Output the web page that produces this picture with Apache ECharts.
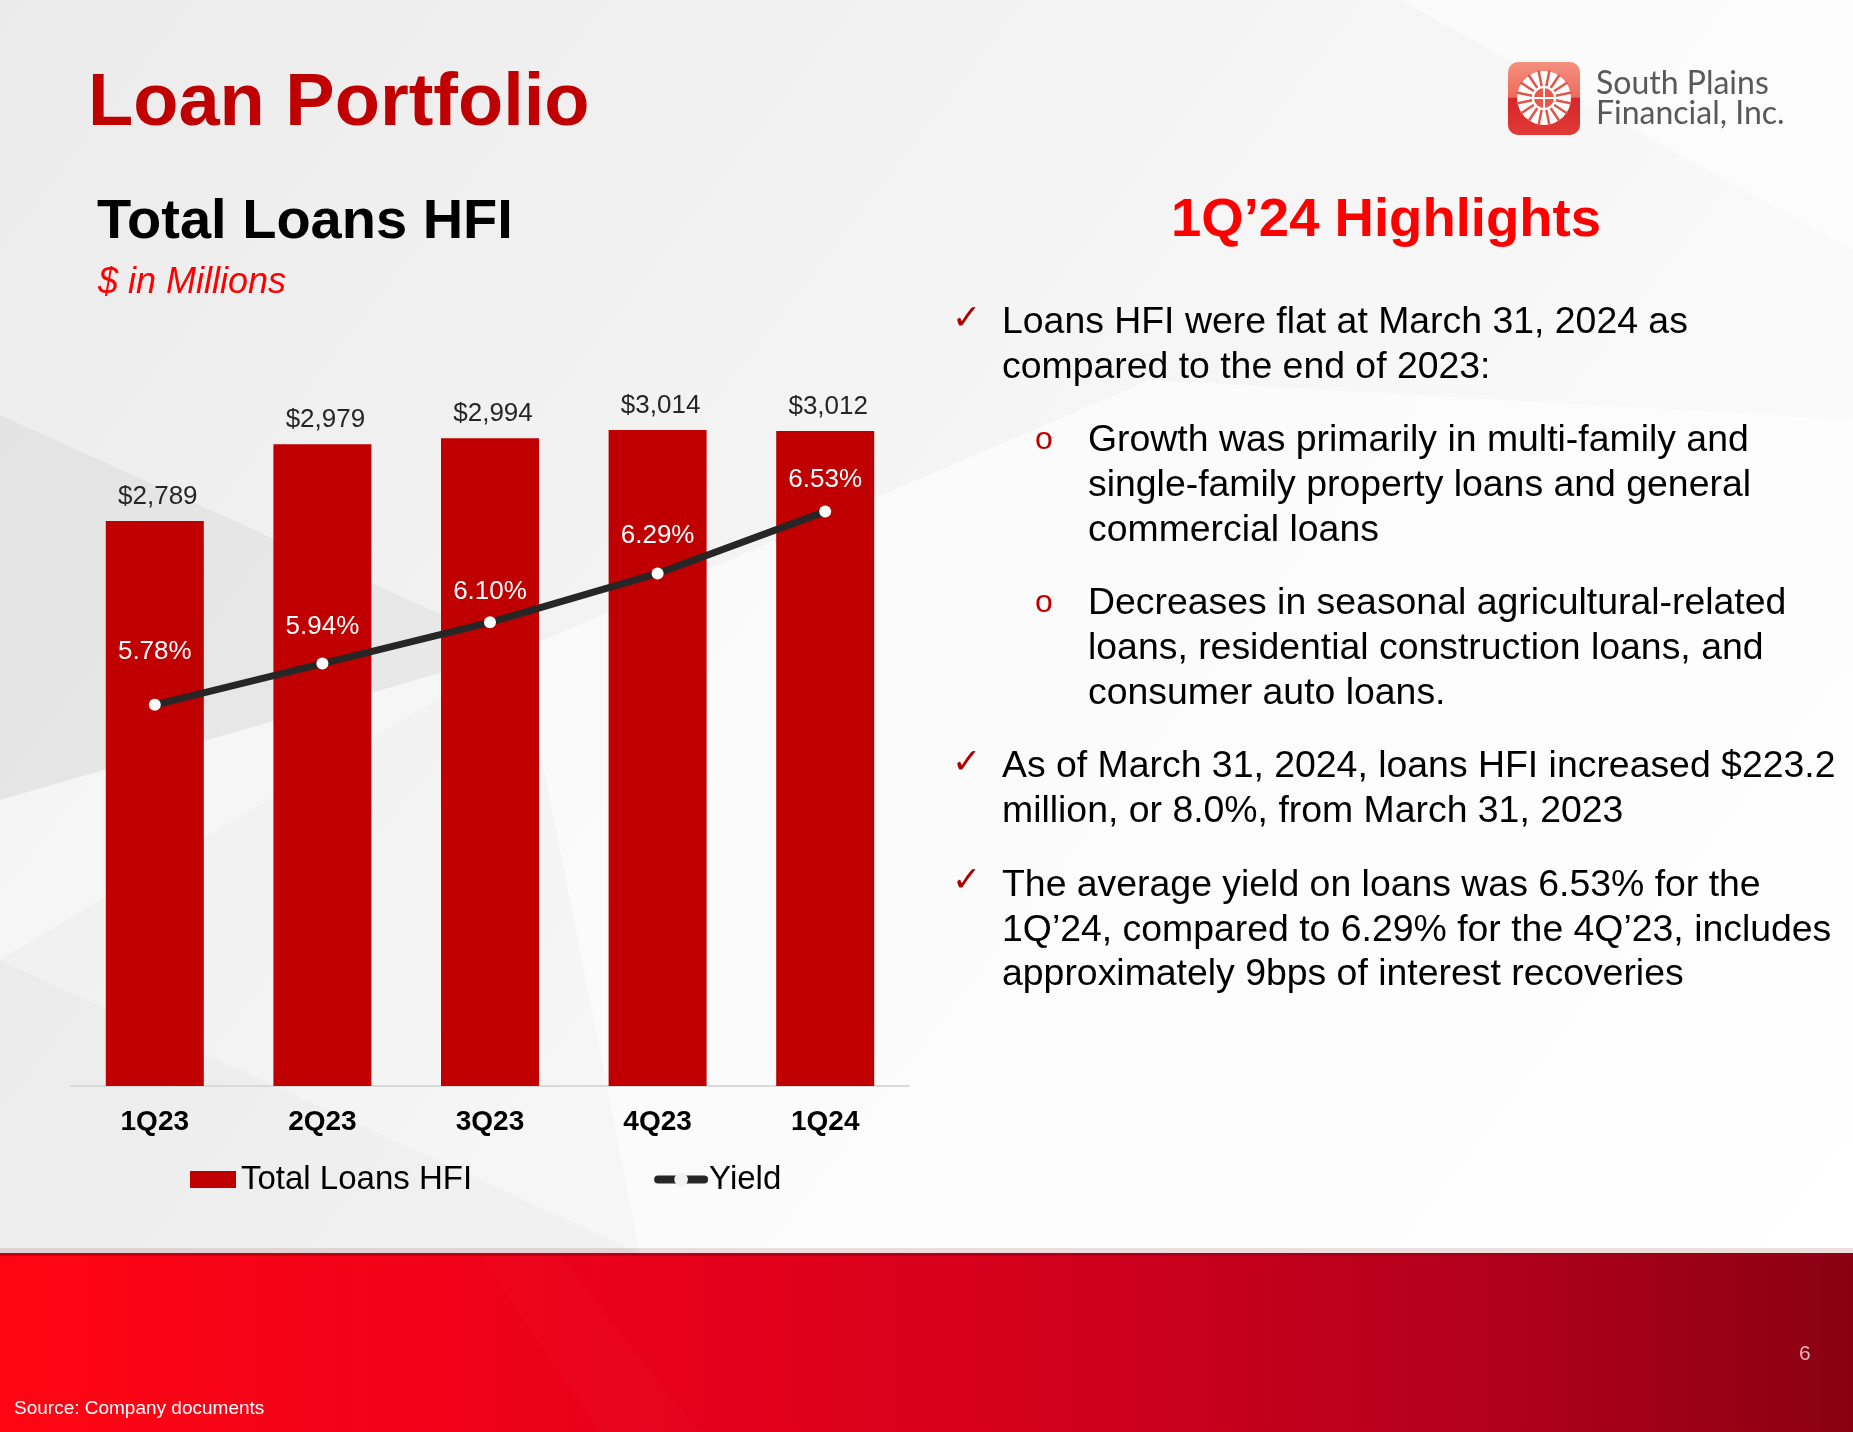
<!DOCTYPE html>
<html><head><meta charset="utf-8">
<script src="https://cdn.jsdelivr.net/npm/echarts@6/dist/echarts.min.js"></script>
<style>html,body{margin:0;padding:0;background:#fff;overflow:hidden}#c{width:1853px;height:1432px}</style>
</head><body><div id="c"></div>
<script>
// ---- data ----
const categories = ['1Q23', '2Q23', '3Q23', '4Q23', '1Q24'];
const totalLoans = [2789, 2979, 2994, 3014, 3012];
const yieldPct = [5.78, 5.94, 6.10, 6.29, 6.53];
const seriesNames = ['Total Loans HFI', 'Yield'];

const FONT = '"Liberation Sans", Arial, Helvetica, sans-serif';
const chart = echarts.init(document.getElementById('c'), null, {renderer: 'canvas'});

// per-point label gaps above the yield markers (style only)
const yieldLabelGap = [34, 18, 12, 19, 13];

function txt(text, x, y, size, color, opts) {
  opts = opts || {};
  return {
    type: 'text', x: x, y: y, z: 10, silent: true,
    style: {
      text: text, fontSize: size, fill: color, fontFamily: opts.family || FONT,
      fontWeight: opts.weight || 'normal', fontStyle: opts.style || 'normal',
      align: opts.align || 'left', verticalAlign: 'middle'
    }
  };
}
// y given as baseline -> middle
function bl(base, size) { return base - 0.35 * size; }

const BODY = 37.4;
const bulletLines = [
  ['Loans HFI were flat at March 31, 2024 as', 1002, 336],
  ['compared to the end of 2023:', 1002, 381],
  ['Growth was primarily in multi-family and', 1088, 454],
  ['single-family property loans and general', 1088, 499],
  ['commercial loans', 1088, 544],
  ['Decreases in seasonal agricultural-related', 1088, 617],
  ['loans, residential construction loans, and', 1088, 662],
  ['consumer auto loans.', 1088, 707],
  ['As of March 31, 2024, loans HFI increased $223.2', 1002, 780],
  ['million, or 8.0%, from March 31, 2023', 1002, 825],
  ['The average yield on loans was 6.53% for the', 1002, 899],
  ['1Q\u201924, compared to 6.29% for the 4Q\u201923, includes', 1002, 944],
  ['approximately 9bps of interest recoveries', 1002, 988]
];
const checkY = [320, 764, 882];
const circY = [440, 603];

const graphics = [];
// background
graphics.push({type: 'rect', z: -10, silent: true, shape: {x: 0, y: 0, width: 1853, height: 1432},
  style: {fill: new echarts.graphic.LinearGradient(0, 0, 1, 1, [
    {offset: 0, color: '#ebebec'}, {offset: 0.45, color: '#f5f5f6'}, {offset: 1, color: '#ffffff'}])}});
graphics.push({type: 'polygon', z: -9, silent: true, shape: {points: [[0, 415], [520, 650], [0, 800]]},
  style: {fill: 'rgba(0,0,0,0.04)'}});
graphics.push({type: 'polygon', z: -9, silent: true, shape: {points: [[0, 800], [520, 650], [0, 960]]},
  style: {fill: 'rgba(255,255,255,0.35)'}});
graphics.push({type: 'polygon', z: -9, silent: true, shape: {points: [[0, 960], [640, 1253], [0, 1253]]},
  style: {fill: 'rgba(0,0,0,0.02)'}});
graphics.push({type: 'polygon', z: -9, silent: true, shape: {points: [[520, 650], [1150, 380], [1853, 420], [1853, 1253], [640, 1253]]},
  style: {fill: 'rgba(255,255,255,0.55)'}});
graphics.push({type: 'polygon', z: -9, silent: true, shape: {points: [[1400, 0], [1853, 0], [1853, 250]]},
  style: {fill: 'rgba(255,255,255,0.5)'}});
// red footer band
graphics.push({type: 'rect', z: -5, silent: true, shape: {x: 0, y: 1248, width: 1853, height: 6},
  style: {fill: 'rgba(120,0,0,0.12)'}});
graphics.push({type: 'rect', z: -5, silent: true, shape: {x: 0, y: 1253, width: 1853, height: 179},
  style: {fill: new echarts.graphic.LinearGradient(0, 0, 1, 0, [
    {offset: 0, color: '#ff0513'}, {offset: 0.3, color: '#ec001a'}, {offset: 0.55, color: '#d4001c'},
    {offset: 0.8, color: '#b3001c'}, {offset: 1, color: '#8a0012'}])}});
graphics.push({type: 'rect', z: -4, silent: true, shape: {x: 0, y: 1253, width: 1853, height: 3},
  style: {fill: 'rgba(150,0,20,0.6)'}});
graphics.push({type: 'polygon', z: -4, silent: true, shape: {points: [[480, 1256], [560, 1256], [700, 1432], [600, 1432]]},
  style: {fill: 'rgba(255,255,255,0.015)'}});
graphics.push(txt('Source: Company documents', 14, 1409, 19, '#ffffff'));
graphics.push(txt('6', 1799, 1354, 21, '#e7b5b8'));

// titles
graphics.push(txt('Loan Portfolio', 88, bl(130, 74), 74, '#c00000', {weight: 'bold'}));
graphics.push(txt('Total Loans HFI', 97, bl(242, 56), 56, '#000000', {weight: 'bold'}));
graphics.push(txt('$ in Millions', 98, bl(296, 36), 36, '#ff0000', {style: 'italic'}));
graphics.push(txt('1Q\u201924 Highlights', 1386, bl(240, 54.5), 54.5, '#ff0000', {weight: 'bold', align: 'center'}));

bulletLines.forEach(function (l) { graphics.push(txt(l[0], l[1], bl(l[2], BODY), BODY, '#000000')); });
checkY.forEach(function (y) { graphics.push(txt('\u2713', 952, y, 35, '#b00000', {family: '"DejaVu Sans", sans-serif'})); });
circY.forEach(function (y) { graphics.push(txt('o', 1035, y, 32, '#c00000')); });

// logo
graphics.push({type: 'rect', z: 5, silent: true, shape: {x: 1508, y: 62, width: 72, height: 73, r: 10},
  style: {fill: new echarts.graphic.LinearGradient(0, 0, 0, 1, [
    {offset: 0, color: '#f4907e'}, {offset: 0.48, color: '#ef6b5c'}, {offset: 0.5, color: '#d6262a'}, {offset: 1, color: '#e03a36'}])}});
graphics.push({type: 'circle', z: 6, silent: true, shape: {cx: 1544, cy: 98, r: 27}, style: {fill: '#ffffff'}});
for (let i = 0; i < 16; i++) {
  const a = i * Math.PI / 8 + Math.PI / 16;
  graphics.push({type: 'line', z: 7, silent: true,
    shape: {x1: 1544 + 12 * Math.cos(a), y1: 98 + 12 * Math.sin(a), x2: 1544 + 28 * Math.cos(a), y2: 98 + 28 * Math.sin(a)},
    style: {stroke: '#e0564a', lineWidth: 2.5}});
}
graphics.push({type: 'circle', z: 7, silent: true, shape: {cx: 1544, cy: 98, r: 11}, style: {fill: '#e9564a', stroke: '#ffffff', lineWidth: 2}});
graphics.push({type: 'line', z: 8, silent: true, shape: {x1: 1533, y1: 98, x2: 1555, y2: 98}, style: {stroke: '#ffffff', lineWidth: 2}});
graphics.push({type: 'line', z: 8, silent: true, shape: {x1: 1544, y1: 87, x2: 1544, y2: 109}, style: {stroke: '#ffffff', lineWidth: 2}});
graphics.push(txt('South Plains', 1596, bl(95, 32), 32, '#595959', {family: 'Lato, sans-serif'}));
graphics.push(txt('Financial, Inc.', 1596, bl(125, 32), 32, '#595959', {family: 'Lato, sans-serif'}));

const option = {
  backgroundColor: 'transparent',
  animation: false,
  textStyle: {fontFamily: FONT},
  graphic: graphics,
  grid: {left: 71, right: 944, top: 236, bottom: 346, containLabel: false},
  legend: {
    data: [
      {name: seriesNames[0], icon: 'rect'},
      {name: seriesNames[1], lineStyle: {width: 8, cap: 'round', color: '#262626'}, itemStyle: {color: '#f2f2f2'}}
    ],
    left: 190, top: 1163, padding: 0, itemGap: 182,
    itemWidth: 46, itemHeight: 17,
    textStyle: {fontSize: 33, color: '#000', fontFamily: FONT}
  },
  xAxis: {
    type: 'category', data: categories,
    axisLine: {show: true, lineStyle: {color: '#d9d9d9', width: 2}},
    axisTick: {show: false},
    axisLabel: {fontSize: 28, fontWeight: 'bold', color: '#000', margin: 22, fontFamily: FONT}
  },
  yAxis: [
    {type: 'value', min: 1392, max: 3494, show: false, splitLine: {show: false}},
    {type: 'value', min: 4.30, max: 7.60, show: false, splitLine: {show: false}}
  ],
  series: [
    {
      name: seriesNames[0], type: 'bar', data: totalLoans, barWidth: 98,
      itemStyle: {color: '#c00000'},
      label: {show: true, position: 'top', distance: 11, offset: [3, 0], fontSize: 26, color: '#262626', fontFamily: FONT,
        formatter: function (p) { return '$' + p.value.toLocaleString('en-US'); }}
    },
    {
      name: seriesNames[1], type: 'line', yAxisIndex: 1, z: 5,
      data: yieldPct.map(function (v, i) { return {value: v, label: {distance: yieldLabelGap[i]}}; }),
      symbol: 'circle', symbolSize: 12,
      lineStyle: {color: '#262626', width: 7},
      itemStyle: {color: '#ffffff', borderColor: '#ffffff', borderWidth: 0},
      label: {show: true, position: 'top', fontSize: 26, color: '#ffffff', fontFamily: FONT,
        formatter: function (p) { return p.value.toFixed(2) + '%'; }}
    }
  ]
};
chart.setOption(option);
</script>
</body></html>
